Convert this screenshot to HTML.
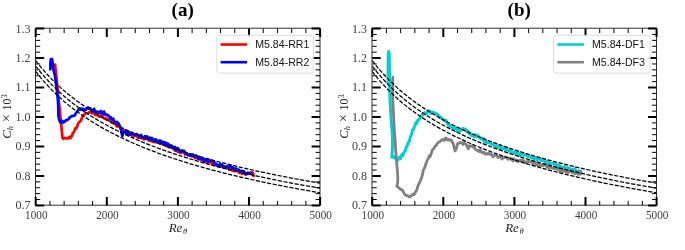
<!DOCTYPE html>
<html><head><meta charset="utf-8"><style>
html,body{margin:0;padding:0;background:#fff;}
svg{display:block;will-change:transform;}
.tl{font-family:"Liberation Serif",serif;font-size:12px;fill:#3c3c3c;}
.xl{font-family:"Liberation Serif",serif;font-style:italic;font-size:13px;fill:#222;}
.yl{font-family:"Liberation Serif",serif;font-size:12px;fill:#222;}
.yl .sub,.xl .sub{font-size:8.5px;font-style:italic;}
.yl .sup{font-size:8.5px;}
.lg{font-family:"Liberation Sans",sans-serif;font-size:10.6px;fill:#111;}
.ti{font-family:"Liberation Serif",serif;font-weight:bold;font-size:19px;fill:#000;}
</style></head><body>
<svg width="685" height="250" viewBox="0 0 685 250">
<defs><clipPath id="ca"><rect x="35.7" y="28.6" width="284.40000000000003" height="176.8"/></clipPath><clipPath id="cb"><rect x="372.2" y="28.6" width="284.40000000000003" height="176.8"/></clipPath></defs>
<rect x="35.50" y="28.20" width="284.50" height="177.00" fill="none" stroke="#1a1a1a" stroke-width="0.9"/>
<path d="M35.70,205.40v-8.5M35.70,28.60v8.5M106.80,205.40v-8.5M106.80,28.60v8.5M177.90,205.40v-8.5M177.90,28.60v8.5M249.00,205.40v-8.5M249.00,28.60v8.5M320.10,205.40v-8.5M320.10,28.60v8.5M35.70,205.40h8.5M320.10,205.40h-8.5M35.70,175.93h8.5M320.10,175.93h-8.5M35.70,146.47h8.5M320.10,146.47h-8.5M35.70,117.00h8.5M320.10,117.00h-8.5M35.70,87.53h8.5M320.10,87.53h-8.5M35.70,58.07h8.5M320.10,58.07h-8.5M35.70,28.60h8.5M320.10,28.60h-8.5" stroke="#000" stroke-width="2" fill="none"/>
<path d="M49.92,205.40v-4.5M49.92,28.60v4.5M64.14,205.40v-4.5M64.14,28.60v4.5M78.36,205.40v-4.5M78.36,28.60v4.5M92.58,205.40v-4.5M92.58,28.60v4.5M121.02,205.40v-4.5M121.02,28.60v4.5M135.24,205.40v-4.5M135.24,28.60v4.5M149.46,205.40v-4.5M149.46,28.60v4.5M163.68,205.40v-4.5M163.68,28.60v4.5M192.12,205.40v-4.5M192.12,28.60v4.5M206.34,205.40v-4.5M206.34,28.60v4.5M220.56,205.40v-4.5M220.56,28.60v4.5M234.78,205.40v-4.5M234.78,28.60v4.5M263.22,205.40v-4.5M263.22,28.60v4.5M277.44,205.40v-4.5M277.44,28.60v4.5M291.66,205.40v-4.5M291.66,28.60v4.5M305.88,205.40v-4.5M305.88,28.60v4.5M35.70,199.51h4.5M320.10,199.51h-4.5M35.70,193.61h4.5M320.10,193.61h-4.5M35.70,187.72h4.5M320.10,187.72h-4.5M35.70,181.83h4.5M320.10,181.83h-4.5M35.70,170.04h4.5M320.10,170.04h-4.5M35.70,164.15h4.5M320.10,164.15h-4.5M35.70,158.25h4.5M320.10,158.25h-4.5M35.70,152.36h4.5M320.10,152.36h-4.5M35.70,140.57h4.5M320.10,140.57h-4.5M35.70,134.68h4.5M320.10,134.68h-4.5M35.70,128.79h4.5M320.10,128.79h-4.5M35.70,122.89h4.5M320.10,122.89h-4.5M35.70,111.11h4.5M320.10,111.11h-4.5M35.70,105.21h4.5M320.10,105.21h-4.5M35.70,99.32h4.5M320.10,99.32h-4.5M35.70,93.43h4.5M320.10,93.43h-4.5M35.70,81.64h4.5M320.10,81.64h-4.5M35.70,75.75h4.5M320.10,75.75h-4.5M35.70,69.85h4.5M320.10,69.85h-4.5M35.70,63.96h4.5M320.10,63.96h-4.5M35.70,52.17h4.5M320.10,52.17h-4.5M35.70,46.28h4.5M320.10,46.28h-4.5M35.70,40.39h4.5M320.10,40.39h-4.5M35.70,34.49h4.5M320.10,34.49h-4.5" stroke="#000" stroke-width="1" fill="none"/>
<text x="25.10" y="219.3" class="tl" textLength="22.4" lengthAdjust="spacingAndGlyphs">1000</text>
<text x="96.20" y="219.3" class="tl" textLength="22.4" lengthAdjust="spacingAndGlyphs">2000</text>
<text x="167.30" y="219.3" class="tl" textLength="22.4" lengthAdjust="spacingAndGlyphs">3000</text>
<text x="238.40" y="219.3" class="tl" textLength="22.4" lengthAdjust="spacingAndGlyphs">4000</text>
<text x="309.50" y="219.3" class="tl" textLength="22.4" lengthAdjust="spacingAndGlyphs">5000</text>
<text x="30.50" y="209.30" class="tl" text-anchor="end">0.7</text>
<text x="30.50" y="179.83" class="tl" text-anchor="end">0.8</text>
<text x="30.50" y="150.37" class="tl" text-anchor="end">0.9</text>
<text x="30.50" y="120.90" class="tl" text-anchor="end">1.0</text>
<text x="30.50" y="91.43" class="tl" text-anchor="end">1.1</text>
<text x="30.50" y="61.97" class="tl" text-anchor="end">1.2</text>
<text x="30.50" y="32.50" class="tl" text-anchor="end">1.3</text>
<text transform="translate(177.90,231.6)" class="xl" text-anchor="middle">Re<tspan class="sub" dy="2.2" dx="0.6">θ</tspan></text>
<text transform="translate(11.40,116.5) rotate(-90)" class="yl" text-anchor="middle"><tspan font-style="italic" font-size="13">C</tspan><tspan class="sub" dy="2">h</tspan><tspan dy="-2" font-size="14.5"> × </tspan><tspan>10</tspan><tspan class="sup" dy="-4">3</tspan></text>
<rect x="372.00" y="28.20" width="284.50" height="177.00" fill="none" stroke="#1a1a1a" stroke-width="0.9"/>
<path d="M372.20,205.40v-8.5M372.20,28.60v8.5M443.30,205.40v-8.5M443.30,28.60v8.5M514.40,205.40v-8.5M514.40,28.60v8.5M585.50,205.40v-8.5M585.50,28.60v8.5M656.60,205.40v-8.5M656.60,28.60v8.5M372.20,205.40h8.5M656.60,205.40h-8.5M372.20,175.93h8.5M656.60,175.93h-8.5M372.20,146.47h8.5M656.60,146.47h-8.5M372.20,117.00h8.5M656.60,117.00h-8.5M372.20,87.53h8.5M656.60,87.53h-8.5M372.20,58.07h8.5M656.60,58.07h-8.5M372.20,28.60h8.5M656.60,28.60h-8.5" stroke="#000" stroke-width="2" fill="none"/>
<path d="M386.42,205.40v-4.5M386.42,28.60v4.5M400.64,205.40v-4.5M400.64,28.60v4.5M414.86,205.40v-4.5M414.86,28.60v4.5M429.08,205.40v-4.5M429.08,28.60v4.5M457.52,205.40v-4.5M457.52,28.60v4.5M471.74,205.40v-4.5M471.74,28.60v4.5M485.96,205.40v-4.5M485.96,28.60v4.5M500.18,205.40v-4.5M500.18,28.60v4.5M528.62,205.40v-4.5M528.62,28.60v4.5M542.84,205.40v-4.5M542.84,28.60v4.5M557.06,205.40v-4.5M557.06,28.60v4.5M571.28,205.40v-4.5M571.28,28.60v4.5M599.72,205.40v-4.5M599.72,28.60v4.5M613.94,205.40v-4.5M613.94,28.60v4.5M628.16,205.40v-4.5M628.16,28.60v4.5M642.38,205.40v-4.5M642.38,28.60v4.5M372.20,199.51h4.5M656.60,199.51h-4.5M372.20,193.61h4.5M656.60,193.61h-4.5M372.20,187.72h4.5M656.60,187.72h-4.5M372.20,181.83h4.5M656.60,181.83h-4.5M372.20,170.04h4.5M656.60,170.04h-4.5M372.20,164.15h4.5M656.60,164.15h-4.5M372.20,158.25h4.5M656.60,158.25h-4.5M372.20,152.36h4.5M656.60,152.36h-4.5M372.20,140.57h4.5M656.60,140.57h-4.5M372.20,134.68h4.5M656.60,134.68h-4.5M372.20,128.79h4.5M656.60,128.79h-4.5M372.20,122.89h4.5M656.60,122.89h-4.5M372.20,111.11h4.5M656.60,111.11h-4.5M372.20,105.21h4.5M656.60,105.21h-4.5M372.20,99.32h4.5M656.60,99.32h-4.5M372.20,93.43h4.5M656.60,93.43h-4.5M372.20,81.64h4.5M656.60,81.64h-4.5M372.20,75.75h4.5M656.60,75.75h-4.5M372.20,69.85h4.5M656.60,69.85h-4.5M372.20,63.96h4.5M656.60,63.96h-4.5M372.20,52.17h4.5M656.60,52.17h-4.5M372.20,46.28h4.5M656.60,46.28h-4.5M372.20,40.39h4.5M656.60,40.39h-4.5M372.20,34.49h4.5M656.60,34.49h-4.5" stroke="#000" stroke-width="1" fill="none"/>
<text x="361.60" y="219.3" class="tl" textLength="22.4" lengthAdjust="spacingAndGlyphs">1000</text>
<text x="432.70" y="219.3" class="tl" textLength="22.4" lengthAdjust="spacingAndGlyphs">2000</text>
<text x="503.80" y="219.3" class="tl" textLength="22.4" lengthAdjust="spacingAndGlyphs">3000</text>
<text x="574.90" y="219.3" class="tl" textLength="22.4" lengthAdjust="spacingAndGlyphs">4000</text>
<text x="646.00" y="219.3" class="tl" textLength="22.4" lengthAdjust="spacingAndGlyphs">5000</text>
<text x="367.00" y="209.30" class="tl" text-anchor="end">0.7</text>
<text x="367.00" y="179.83" class="tl" text-anchor="end">0.8</text>
<text x="367.00" y="150.37" class="tl" text-anchor="end">0.9</text>
<text x="367.00" y="120.90" class="tl" text-anchor="end">1.0</text>
<text x="367.00" y="91.43" class="tl" text-anchor="end">1.1</text>
<text x="367.00" y="61.97" class="tl" text-anchor="end">1.2</text>
<text x="367.00" y="32.50" class="tl" text-anchor="end">1.3</text>
<text transform="translate(514.40,231.6)" class="xl" text-anchor="middle">Re<tspan class="sub" dy="2.2" dx="0.6">θ</tspan></text>
<text transform="translate(347.90,116.5) rotate(-90)" class="yl" text-anchor="middle"><tspan font-style="italic" font-size="13">C</tspan><tspan class="sub" dy="2">h</tspan><tspan dy="-2" font-size="14.5"> × </tspan><tspan>10</tspan><tspan class="sup" dy="-4">3</tspan></text>
<polyline points="55.1,64.5 55.6,70.0 56.4,77.0 57.2,85.0 58.0,93.0 58.7,101.0 59.7,109.0 60.3,116.0 61.0,123.0 61.6,129.0 62.0,133.2 62.3,137.3 63.5,138.8 64.2,137.8 65.0,138.5 66.0,138.1 67.0,138.3 68.0,138.6 69.0,137.1 69.8,136.7 70.5,138.2 71.2,136.4 72.0,136.1 72.8,132.9 73.5,132.4 74.3,131.2 75.2,128.4 76.1,128.6 77.0,127.2 78.0,123.8 79.0,122.3 80.0,121.5 81.0,120.5 82.0,117.6 83.0,115.6 84.0,115.2 85.0,113.4 86.0,113.0 87.0,113.3 88.0,113.2 89.0,112.4 90.0,112.5 91.0,112.6 92.0,113.2 93.0,113.2 94.0,112.9 95.0,115.0 96.0,114.7 97.0,115.2 98.0,114.5 99.0,116.6 100.0,116.7 101.0,115.4 102.0,116.3 103.0,117.6 104.0,118.0 105.0,118.9 106.0,118.2 107.0,119.7 108.0,119.8 109.0,119.6 110.0,120.8 111.0,122.0 112.0,122.6 113.0,122.7 114.0,123.7 115.0,123.4 116.0,124.7 117.0,126.5 118.0,126.1 119.0,126.1 120.0,127.4 121.0,128.6 122.0,129.5 123.0,129.7 124.0,130.7 125.0,131.7 126.0,133.1 127.0,133.4 128.0,133.9 129.0,134.5 130.0,133.8 131.0,134.1 132.0,135.8 133.0,136.6 134.0,136.0 135.0,135.8 136.0,135.6 137.0,136.5 138.0,137.8 139.0,137.6 140.0,137.4 141.0,138.4 142.0,137.2 143.0,138.1 144.0,139.4 145.0,138.8 146.0,138.8 147.0,138.7 148.0,139.5 149.0,140.7 150.0,138.9 151.0,140.9 152.0,141.3 153.0,141.8 154.0,141.8 155.0,142.2 156.0,141.9 157.0,142.3 158.0,142.3 159.0,141.9 160.0,144.0 161.0,143.7 162.0,143.3 163.0,144.4 164.0,144.7 165.0,144.8 166.0,145.3 167.0,146.1 168.0,146.8 169.0,147.2 170.0,147.3 171.0,146.8 172.0,147.7 173.0,148.1 174.0,149.4 175.0,150.5 176.0,150.8 177.0,151.3 178.0,151.9 179.0,151.1 180.0,152.8 181.0,152.8 182.0,151.9 183.0,152.2 184.0,152.5 185.0,154.5 186.0,153.8 187.0,153.8 188.0,155.3 189.0,155.0 190.0,154.8 191.0,155.3 192.0,156.5 193.0,156.1 194.0,156.7 195.0,158.1 196.0,157.9 197.0,158.0 198.0,158.8 199.0,158.2 200.0,159.5 201.0,159.9 202.0,159.8 203.0,160.0 204.0,162.1 205.0,161.5 206.0,161.1 207.0,162.3 208.0,163.1 209.0,161.6 210.0,161.9 211.0,162.4 212.0,164.0 213.0,163.1 214.0,164.6 215.0,164.8 216.0,164.9 217.0,164.5 218.0,166.5 219.0,166.4 220.0,166.1 221.0,165.8 222.0,167.0 223.0,166.7 224.0,167.3 225.0,167.1 226.0,168.0 227.0,167.0 228.0,167.9 229.0,169.6 230.0,169.7 231.0,168.8 232.0,170.4 233.0,169.5 234.0,171.2 235.0,171.1 236.0,170.8 237.0,170.7 238.0,170.5 239.0,172.8 240.0,171.2 241.0,173.2 242.0,173.8 243.0,173.2 244.0,172.5 245.0,174.3 246.0,174.6 247.0,174.1 248.0,173.7 249.0,173.5 250.2,172.9 251.5,172.0 252.2,173.3 253.0,173.1 253.6,176.0" fill="none" stroke="#ff0000" stroke-width="2.7" stroke-linejoin="round" stroke-linecap="round" clip-path="url(#ca)"/>
<polyline points="50.3,69.5 50.4,63.0 50.8,59.2 51.5,58.8 52.2,59.5 52.6,63.0 53.2,68.0 54.0,72.0 55.0,76.0 55.9,83.0 57.0,91.0 57.8,99.0 58.2,105.0 58.3,110.0 58.3,114.0 58.7,117.5 59.6,121.1 60.8,122.7 61.6,120.7 62.5,121.0 63.2,122.6 64.0,122.1 65.0,121.4 66.0,120.0 67.0,120.3 68.0,119.5 69.0,118.7 70.0,117.0 71.0,116.8 72.0,115.8 73.0,115.9 74.0,116.0 75.0,115.1 76.0,112.9 77.0,111.9 78.0,110.5 79.0,108.8 80.0,108.3 81.0,109.7 82.0,108.7 83.0,108.9 84.0,111.0 85.0,109.5 86.0,109.6 87.0,108.3 88.0,107.5 89.0,108.8 90.0,108.1 91.0,109.7 92.0,111.7 93.0,110.6 94.0,108.8 95.0,111.8 96.0,111.6 97.0,111.5 98.0,112.4 99.0,112.1 100.0,112.5 101.0,111.0 102.0,113.8 103.0,114.3 104.0,111.6 105.0,114.5 106.0,114.9 107.0,114.5 108.0,115.5 109.0,116.0 110.0,118.4 111.0,117.5 112.0,119.5 113.2,118.7 114.5,121.8 115.8,122.7 117.0,121.9 118.2,123.0 119.3,125.0 120.4,127.8 121.4,131.5 122.3,136.2 123.2,133.1 124.3,132.1 125.2,130.6 126.1,133.1 127.0,131.3 128.0,133.7 129.0,132.2 130.0,134.7 131.0,134.1 132.0,133.7 133.0,134.0 134.0,134.7 135.0,134.8 136.0,134.2 137.0,134.1 138.0,135.4 139.0,137.0 140.0,136.3 141.0,134.8 142.0,137.5 143.0,137.4 144.0,138.3 145.0,136.2 146.0,138.3 147.0,136.3 148.0,138.5 149.0,137.6 150.0,137.8 151.0,140.1 152.0,138.0 153.0,139.6 154.0,141.0 155.0,139.4 156.0,139.6 157.0,142.0 158.0,140.8 159.0,142.2 160.0,140.4 161.0,141.8 162.0,141.6 163.0,143.5 164.0,142.0 165.0,145.3 166.0,142.7 167.0,145.4 168.0,143.6 169.0,144.8 170.0,147.0 171.0,145.4 172.0,145.9 173.0,148.0 174.0,147.5 175.0,146.9 176.0,150.4 177.0,148.2 178.0,148.3 179.0,149.8 180.0,151.2 181.0,151.9 182.0,150.3 183.0,151.4 184.0,150.8 185.0,152.5 186.0,153.9 187.0,154.1 188.0,155.0 189.0,154.9 190.0,155.6 191.0,155.4 192.0,155.0 193.0,154.6 194.0,156.4 195.0,155.7 196.0,155.4 197.0,156.9 198.0,158.7 199.0,156.8 200.0,158.7 201.0,158.5 202.0,159.3 203.0,158.5 204.0,161.4 205.0,159.4 206.0,160.8 207.0,160.5 208.0,159.6 209.0,161.6 210.0,160.5 211.0,160.5 212.0,160.7 213.0,161.4 214.0,161.5 215.0,163.6 216.0,163.5 217.0,165.4 218.0,165.6 219.0,166.1 220.0,164.0 221.0,165.0 222.0,164.6 223.0,166.0 224.0,166.3 225.0,167.2 226.0,167.1 227.0,166.0 228.0,166.8 229.0,167.5 230.0,166.1 231.0,166.5 232.0,168.0 233.0,167.4 234.0,169.7 235.0,168.5 236.0,168.5 237.0,169.1 238.0,169.6 239.0,169.8 240.0,171.1 241.0,171.2 242.0,170.9 243.0,172.3 244.0,171.2 245.0,173.6 246.0,174.0 247.0,173.4 248.0,172.7 249.1,173.1 250.2,173.6 251.3,173.5" fill="none" stroke="#0000ff" stroke-width="2.7" stroke-linejoin="round" stroke-linecap="round" clip-path="url(#ca)"/>
<polyline points="388.1,84.0 388.1,65.0 388.3,53.0 388.8,51.5 389.2,54.0 389.3,65.0 389.6,78.0 389.8,90.0 390.0,100.0 390.4,108.0 391.0,118.0 391.6,126.0 392.1,130.0 392.4,136.0 392.5,142.0 392.3,150.0 392.0,155.5 391.8,157.3 393.5,156.5 394.5,157.9 395.5,157.9 396.5,159.4 397.5,160.2 398.8,158.7 399.6,157.4 400.3,158.8 401.1,155.9 402.0,154.7 402.9,155.7 403.7,152.9 405.0,151.0 406.2,147.4 407.1,146.1 408.0,142.8 408.8,142.1 409.5,140.6 410.2,137.3 411.0,135.7 411.8,133.5 412.5,129.7 413.2,130.0 414.0,127.8 415.0,125.2 416.0,122.6 416.9,123.3 417.7,120.4 418.6,119.7 419.5,118.6 420.4,117.0 421.3,116.6 422.4,114.1 423.5,114.4 424.6,112.8 425.6,113.7 426.8,113.3 428.0,110.8 429.0,110.9 430.0,111.2 431.0,113.5 432.0,112.1 433.0,113.0 434.0,112.4 435.0,113.5 436.0,113.6 437.0,114.0 438.0,115.3 439.0,115.9 440.0,117.4 441.0,117.4 442.0,118.8 443.0,119.3 444.0,120.5 445.0,120.6 446.0,120.2 447.0,123.4 448.0,124.7 449.0,125.5 450.0,125.6 451.0,126.8 452.0,126.2 453.0,128.7 454.0,128.6 455.0,128.2 456.0,128.0 457.0,130.7 458.0,131.4 459.0,128.9 460.0,131.3 461.0,130.0 462.0,129.1 462.8,128.4 463.5,128.7 464.5,128.9 465.5,129.1 466.8,131.8 468.0,131.1 469.0,133.6 470.0,132.9 471.0,135.0 472.0,135.7 473.0,134.8 474.0,136.7 475.0,135.2 476.0,134.9 477.0,137.0 478.0,135.8 479.0,136.9 480.0,138.0 481.0,139.1 482.0,138.2 483.0,138.4 484.0,141.3 485.0,140.1 486.0,142.6 487.0,142.9 488.0,141.8 489.0,142.5 490.0,143.2 491.0,144.0 492.0,144.3 493.0,144.6 494.0,145.3 495.0,146.7 496.0,145.8 497.0,146.0 498.0,147.3 499.0,146.3 500.0,146.9 501.0,149.3 502.0,148.3 503.0,148.7 504.0,147.4 505.0,149.0 506.0,149.8 507.0,148.4 508.0,150.5 509.0,151.0 510.0,149.6 511.0,151.7 512.0,151.6 513.0,152.6 514.0,152.0 515.0,153.3 516.0,153.7 517.0,151.8 518.0,152.2 519.0,154.4 520.0,155.5 521.0,153.7 522.0,154.5 523.0,155.2 524.0,154.7 525.0,155.1 526.0,155.2 527.0,155.6 528.0,156.6 529.0,156.0 530.0,156.5 531.0,158.0 532.0,156.1 533.0,158.0 534.0,158.8 535.0,157.8 536.0,157.9 537.0,159.9 538.0,158.5 539.0,158.6 540.0,159.7 541.0,160.7 542.0,159.2 543.0,160.2 544.0,160.5 545.0,162.4 546.0,161.5 547.0,163.1 548.0,161.4 549.0,162.3 550.0,163.6 551.0,164.6 552.0,163.7 553.0,163.3 554.0,163.3 555.0,164.8 556.0,164.1 557.0,166.2 558.0,166.6 559.0,165.0 560.0,165.5 561.0,167.4 562.0,167.2 563.0,168.0 564.0,166.9 565.0,166.6 566.0,167.4 567.0,169.1 568.0,167.8 569.0,168.3 570.0,168.8 571.0,169.0 572.0,169.2 573.0,171.0 574.0,168.9 575.0,168.7 576.0,171.7 577.0,171.7 578.0,172.3 579.0,170.8 580.0,172.6 581.0,171.4" fill="none" stroke="#00ced1" stroke-width="3.0" stroke-linejoin="round" stroke-linecap="round" clip-path="url(#cb)"/>
<polyline points="392.8,77.5 392.7,86.0 392.7,98.0 393.2,108.0 393.7,118.0 394.2,128.0 394.8,136.0 395.3,142.0 395.5,148.0 396.2,156.0 396.8,164.0 397.5,172.0 397.8,178.0 397.7,183.0 396.8,186.0 398.4,187.6 399.4,188.0 400.5,189.5 401.4,189.6 402.3,190.0 403.2,191.5 404.4,194.0 405.5,194.8 406.8,195.9 408.0,195.7 409.2,196.9 410.4,196.6 411.4,195.6 412.3,194.8 413.1,194.0 414.0,194.7 415.0,192.9 416.0,191.3 416.8,189.8 417.6,186.8 419.0,183.5 420.0,181.6 421.0,179.1 421.8,176.9 422.5,174.5 423.3,170.0 424.1,169.0 425.1,166.5 426.0,163.5 427.2,160.2 428.4,158.5 429.2,156.0 430.0,156.6 430.8,155.0 431.5,152.6 432.6,149.5 433.8,148.6 434.7,146.5 435.6,146.2 436.5,144.9 437.5,143.3 438.5,142.2 439.5,142.0 440.8,140.9 442.0,139.6 443.1,139.6 444.2,140.4 445.3,138.0 446.2,138.2 447.1,139.9 448.0,139.2 449.2,140.0 450.5,139.9 451.5,140.3 452.5,142.8 453.2,143.5 454.0,146.8 455.0,151.0 456.2,149.3 457.5,143.9 458.5,143.2 459.5,143.2 460.8,142.3 462.0,143.2 463.0,144.5 464.0,142.8 465.0,143.2 466.0,144.2 467.0,146.2 468.3,148.8 469.5,145.8 470.8,146.2 472.0,146.0 473.0,147.1 474.0,146.5 475.0,148.7 476.0,149.6 477.0,150.4 478.0,150.4 479.0,151.6 480.0,149.7 481.0,150.8 482.0,152.9 483.0,152.8 484.0,152.2 485.0,154.0 486.0,153.5 487.0,154.3 488.0,153.3 489.0,153.4 490.0,154.4 491.0,154.0 492.0,155.0 493.0,156.8 494.0,155.4 495.0,154.9 496.0,155.3 497.0,155.8 498.0,157.6 499.0,156.8 500.0,156.8 501.0,156.5 502.0,159.0 503.0,157.8 504.0,157.4 505.0,157.2 506.0,157.4 507.0,157.8 508.0,159.3 509.0,158.1 510.0,158.0 511.0,159.3 512.0,158.9 513.0,161.0 514.0,158.9 515.0,160.1 516.0,160.9 517.0,160.1 518.0,161.7 519.0,160.5 520.0,160.1 521.0,160.7 522.0,159.8 523.0,161.0 524.0,160.7 525.0,162.5 526.0,162.6 527.0,161.9 528.0,160.9 529.0,161.7 530.0,161.8 531.0,162.0 532.0,162.2 533.0,164.1 534.0,162.4 535.0,162.3 536.0,164.8 537.0,164.1 538.0,165.4 539.0,164.0 540.0,165.5 541.0,165.1 542.0,165.7 543.0,165.7 544.0,165.3 545.0,164.5 546.0,165.0 547.0,167.0 548.0,167.3 549.0,167.7 550.0,166.4 551.0,167.5 552.0,168.1 553.0,167.9 554.0,168.7 555.0,168.2 556.0,168.8 557.0,169.2 558.0,168.3 559.0,170.3 560.0,170.7 561.0,168.6 562.0,171.2 563.0,171.5 564.0,170.9 565.0,169.6 566.0,172.0 567.0,170.2 568.0,172.6 569.0,172.0 570.0,170.6 571.0,171.1 572.0,172.5 573.0,172.5 574.0,173.1 575.0,173.8 576.0,172.1 577.0,171.6 578.0,174.2 579.0,171.9 580.0,174.3 581.0,173.5" fill="none" stroke="#808080" stroke-width="2.8" stroke-linejoin="round" stroke-linecap="round" clip-path="url(#cb)"/>
<polyline points="35.70,60.57 39.26,65.12 42.81,69.39 46.37,73.43 49.92,77.25 53.48,80.88 57.03,84.32 60.59,87.61 64.14,90.74 67.70,93.73 71.25,96.60 74.81,99.34 78.36,101.98 81.92,104.51 85.47,106.95 89.03,109.30 92.58,111.57 96.14,113.75 99.69,115.87 103.25,117.91 106.80,119.89 110.36,121.81 113.91,123.67 117.47,125.47 121.02,127.22 124.58,128.92 128.13,130.58 131.69,132.19 135.24,133.75 138.80,135.28 142.35,136.77 145.91,138.22 149.46,139.63 153.02,141.01 156.57,142.36 160.12,143.67 163.68,144.96 167.24,146.22 170.79,147.45 174.35,148.65 177.90,149.83 181.45,150.98 185.01,152.11 188.56,153.22 192.12,154.30 195.68,155.36 199.23,156.41 202.79,157.43 206.34,158.43 209.90,159.42 213.45,160.39 217.00,161.34 220.56,162.27 224.12,163.19 227.67,164.09 231.23,164.97 234.78,165.84 238.34,166.70 241.89,167.54 245.45,168.37 249.00,169.19 252.56,169.99 256.11,170.78 259.67,171.56 263.22,172.33 266.78,173.08 270.33,173.82 273.89,174.56 277.44,175.28 281.00,175.99 284.55,176.69 288.11,177.39 291.66,178.07 295.22,178.74 298.77,179.41 302.33,180.06 305.88,180.71 309.44,181.35 312.99,181.98 316.55,182.60 320.10,183.21" fill="none" stroke="#000" stroke-width="1.25" stroke-dasharray="4.2 1.5" clip-path="url(#ca)"/>
<polyline points="35.70,66.05 39.26,70.59 42.81,74.86 46.37,78.90 49.92,82.71 53.48,86.33 57.03,89.77 60.59,93.05 64.14,96.17 67.70,99.16 71.25,102.02 74.81,104.76 78.36,107.39 81.92,109.91 85.47,112.34 89.03,114.69 92.58,116.94 96.14,119.12 99.69,121.23 103.25,123.27 106.80,125.24 110.36,127.15 113.91,129.00 117.47,130.80 121.02,132.54 124.58,134.24 128.13,135.89 131.69,137.49 135.24,139.05 138.80,140.57 142.35,142.05 145.91,143.49 149.46,144.90 153.02,146.27 156.57,147.61 160.12,148.92 163.68,150.20 167.24,151.45 170.79,152.68 174.35,153.87 177.90,155.05 181.45,156.19 185.01,157.32 188.56,158.42 192.12,159.49 195.68,160.55 199.23,161.59 202.79,162.61 206.34,163.60 209.90,164.58 213.45,165.55 217.00,166.49 220.56,167.42 224.12,168.33 227.67,169.22 231.23,170.10 234.78,170.97 238.34,171.82 241.89,172.66 245.45,173.48 249.00,174.29 252.56,175.09 256.11,175.88 259.67,176.65 263.22,177.41 266.78,178.16 270.33,178.90 273.89,179.63 277.44,180.34 281.00,181.05 284.55,181.75 288.11,182.44 291.66,183.11 295.22,183.78 298.77,184.44 302.33,185.09 305.88,185.74 309.44,186.37 312.99,186.99 316.55,187.61 320.10,188.22" fill="none" stroke="#000" stroke-width="1.25" stroke-dasharray="4.2 1.5" clip-path="url(#ca)"/>
<polyline points="35.70,71.44 39.26,75.96 42.81,80.21 46.37,84.23 49.92,88.02 53.48,91.62 57.03,95.04 60.59,98.30 64.14,101.41 67.70,104.38 71.25,107.22 74.81,109.94 78.36,112.55 81.92,115.07 85.47,117.48 89.03,119.81 92.58,122.05 96.14,124.22 99.69,126.31 103.25,128.34 106.80,130.30 110.36,132.19 113.91,134.03 117.47,135.82 121.02,137.55 124.58,139.23 128.13,140.87 131.69,142.46 135.24,144.01 138.80,145.51 142.35,146.98 145.91,148.42 149.46,149.81 153.02,151.18 156.57,152.51 160.12,153.81 163.68,155.08 167.24,156.32 170.79,157.53 174.35,158.72 177.90,159.88 181.45,161.02 185.01,162.13 188.56,163.22 192.12,164.29 195.68,165.34 199.23,166.37 202.79,167.38 206.34,168.37 209.90,169.34 213.45,170.29 217.00,171.23 220.56,172.15 224.12,173.05 227.67,173.94 231.23,174.81 234.78,175.67 238.34,176.52 241.89,177.35 245.45,178.16 249.00,178.97 252.56,179.76 256.11,180.53 259.67,181.30 263.22,182.06 266.78,182.80 270.33,183.53 273.89,184.25 277.44,184.96 281.00,185.66 284.55,186.36 288.11,187.04 291.66,187.71 295.22,188.37 298.77,189.02 302.33,189.67 305.88,190.30 309.44,190.93 312.99,191.55 316.55,192.16 320.10,192.77" fill="none" stroke="#000" stroke-width="1.25" stroke-dasharray="4.2 1.5" clip-path="url(#ca)"/>
<polyline points="372.20,60.57 375.75,65.12 379.31,69.39 382.87,73.43 386.42,77.25 389.97,80.88 393.53,84.32 397.08,87.61 400.64,90.74 404.19,93.73 407.75,96.60 411.31,99.34 414.86,101.98 418.42,104.51 421.97,106.95 425.52,109.30 429.08,111.57 432.63,113.75 436.19,115.87 439.75,117.91 443.30,119.89 446.86,121.81 450.41,123.67 453.96,125.47 457.52,127.22 461.07,128.92 464.63,130.58 468.19,132.19 471.74,133.75 475.30,135.28 478.85,136.77 482.40,138.22 485.96,139.63 489.51,141.01 493.07,142.36 496.62,143.67 500.18,144.96 503.74,146.22 507.29,147.45 510.85,148.65 514.40,149.83 517.95,150.98 521.51,152.11 525.07,153.22 528.62,154.30 532.17,155.36 535.73,156.41 539.29,157.43 542.84,158.43 546.39,159.42 549.95,160.39 553.50,161.34 557.06,162.27 560.62,163.19 564.17,164.09 567.73,164.97 571.28,165.84 574.84,166.70 578.39,167.54 581.95,168.37 585.50,169.19 589.06,169.99 592.61,170.78 596.16,171.56 599.72,172.33 603.27,173.08 606.83,173.82 610.38,174.56 613.94,175.28 617.50,175.99 621.05,176.69 624.61,177.39 628.16,178.07 631.72,178.74 635.27,179.41 638.83,180.06 642.38,180.71 645.93,181.35 649.49,181.98 653.05,182.60 656.60,183.21" fill="none" stroke="#000" stroke-width="1.25" stroke-dasharray="4.2 1.5" clip-path="url(#cb)"/>
<polyline points="372.20,66.05 375.75,70.59 379.31,74.86 382.87,78.90 386.42,82.71 389.97,86.33 393.53,89.77 397.08,93.05 400.64,96.17 404.19,99.16 407.75,102.02 411.31,104.76 414.86,107.39 418.42,109.91 421.97,112.34 425.52,114.69 429.08,116.94 432.63,119.12 436.19,121.23 439.75,123.27 443.30,125.24 446.86,127.15 450.41,129.00 453.96,130.80 457.52,132.54 461.07,134.24 464.63,135.89 468.19,137.49 471.74,139.05 475.30,140.57 478.85,142.05 482.40,143.49 485.96,144.90 489.51,146.27 493.07,147.61 496.62,148.92 500.18,150.20 503.74,151.45 507.29,152.68 510.85,153.87 514.40,155.05 517.95,156.19 521.51,157.32 525.07,158.42 528.62,159.49 532.17,160.55 535.73,161.59 539.29,162.61 542.84,163.60 546.39,164.58 549.95,165.55 553.50,166.49 557.06,167.42 560.62,168.33 564.17,169.22 567.73,170.10 571.28,170.97 574.84,171.82 578.39,172.66 581.95,173.48 585.50,174.29 589.06,175.09 592.61,175.88 596.16,176.65 599.72,177.41 603.27,178.16 606.83,178.90 610.38,179.63 613.94,180.34 617.50,181.05 621.05,181.75 624.61,182.44 628.16,183.11 631.72,183.78 635.27,184.44 638.83,185.09 642.38,185.74 645.93,186.37 649.49,186.99 653.05,187.61 656.60,188.22" fill="none" stroke="#000" stroke-width="1.25" stroke-dasharray="4.2 1.5" clip-path="url(#cb)"/>
<polyline points="372.20,71.44 375.75,75.96 379.31,80.21 382.87,84.23 386.42,88.02 389.97,91.62 393.53,95.04 397.08,98.30 400.64,101.41 404.19,104.38 407.75,107.22 411.31,109.94 414.86,112.55 418.42,115.07 421.97,117.48 425.52,119.81 429.08,122.05 432.63,124.22 436.19,126.31 439.75,128.34 443.30,130.30 446.86,132.19 450.41,134.03 453.96,135.82 457.52,137.55 461.07,139.23 464.63,140.87 468.19,142.46 471.74,144.01 475.30,145.51 478.85,146.98 482.40,148.42 485.96,149.81 489.51,151.18 493.07,152.51 496.62,153.81 500.18,155.08 503.74,156.32 507.29,157.53 510.85,158.72 514.40,159.88 517.95,161.02 521.51,162.13 525.07,163.22 528.62,164.29 532.17,165.34 535.73,166.37 539.29,167.38 542.84,168.37 546.39,169.34 549.95,170.29 553.50,171.23 557.06,172.15 560.62,173.05 564.17,173.94 567.73,174.81 571.28,175.67 574.84,176.52 578.39,177.35 581.95,178.16 585.50,178.97 589.06,179.76 592.61,180.53 596.16,181.30 599.72,182.06 603.27,182.80 606.83,183.53 610.38,184.25 613.94,184.96 617.50,185.66 621.05,186.36 624.61,187.04 628.16,187.71 631.72,188.37 635.27,189.02 638.83,189.67 642.38,190.30 645.93,190.93 649.49,191.55 653.05,192.16 656.60,192.77" fill="none" stroke="#000" stroke-width="1.25" stroke-dasharray="4.2 1.5" clip-path="url(#cb)"/>
<rect x="216.80" y="35.3" width="96.5" height="37.8" rx="2.5" fill="#fff" fill-opacity="0.85" stroke="#dcdcdc" stroke-width="1"/>
<line x1="220.60" y1="44.50" x2="247.10" y2="44.50" stroke="#ff0000" stroke-width="2.6"/>
<text x="255.20" y="47.60" class="lg">M5.84-RR1</text>
<line x1="220.60" y1="62.20" x2="247.10" y2="62.20" stroke="#0000ff" stroke-width="2.6"/>
<text x="255.20" y="66.10" class="lg">M5.84-RR2</text>
<rect x="553.60" y="35.3" width="96.5" height="37.8" rx="2.5" fill="#fff" fill-opacity="0.85" stroke="#dcdcdc" stroke-width="1"/>
<line x1="557.40" y1="44.50" x2="583.90" y2="44.50" stroke="#00ced1" stroke-width="2.6"/>
<text x="592.00" y="47.60" class="lg">M5.84-DF1</text>
<line x1="557.40" y1="62.20" x2="583.90" y2="62.20" stroke="#808080" stroke-width="2.6"/>
<text x="592.00" y="66.10" class="lg">M5.84-DF3</text>
<text x="182.7" y="15.9" class="ti" text-anchor="middle">(a)</text>
<text x="519.2" y="15.9" class="ti" text-anchor="middle">(b)</text>
</svg></body></html>
